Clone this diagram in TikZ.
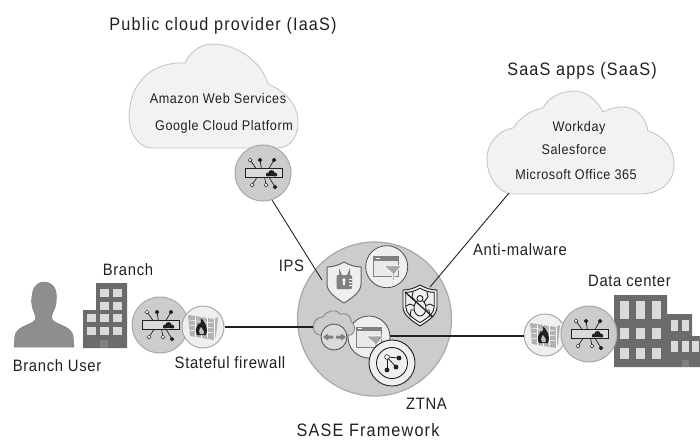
\documentclass[tikz,border=0pt]{standalone}
\usepackage{fontspec}
\setmainfont[FakeStretch=0.9,LetterSpace=4]{Liberation Sans}
\newfontfamily\titlefont[FakeStretch=0.9,LetterSpace=6.5]{Liberation Sans}
\usepackage{tikz}
\definecolor{hubgray}{HTML}{CCCCCC}
\definecolor{ringgray}{HTML}{A8A8A8}
\definecolor{palegray}{HTML}{EFEFEF}
\definecolor{cloudfill}{HTML}{F2F2F3}
\definecolor{cloudline}{HTML}{C6C6C6}
\definecolor{bldgray}{HTML}{6B6B6B}
\definecolor{wingray}{HTML}{DADADA}
\definecolor{persongray}{HTML}{8E8E8E}
\definecolor{iconink}{HTML}{231F20}
\newcommand{\shieldpath}{(0,-20) .. controls (-5,-17) and (-11,-15) .. (-17,-15) -- (-17,2) .. controls (-17,10) and (-8,16) .. (0,21) .. controls (8,16) and (17,10) .. (17,2) -- (17,-15) .. controls (11,-15) and (5,-17) .. (0,-20) -- cycle}
\tikzset{
	caption/.style={font=\fontsize{16.5}{18}\selectfont,text=iconink,inner sep=0pt},
	bigcaption/.style={font=\titlefont\fontsize{18}{20}\selectfont,text=iconink,inner sep=0pt},
	cloudtext/.style={font=\fontsize{14}{16}\selectfont,text=iconink,inner sep=0pt},
	cloudshape/.style={fill=cloudfill,draw=cloudline,line width=0.9pt},
	gwdisc/.style={circle,fill=hubgray,draw=ringgray,line width=1pt,minimum size=56pt,inner sep=0pt},
	fwdisc/.style={circle,fill=palegray,draw=ringgray,line width=1pt,minimum size=42pt,inner sep=0pt},
	filterdisc/.style={circle,fill=palegray,draw=iconink!80,line width=0.8pt,minimum size=42pt,inner sep=0pt},
	link/.style={draw=iconink,line width=0.9pt},
	trunk/.style={draw=iconink,line width=1.5pt},
	sdwan/.pic={
		\foreach \a/\b/\c in {-13/-13/white,-3/-13/iconink,11/-13/iconink,-11/12/white,3/12/white,12/14/iconink}{
			\draw[iconink,line width=0.7pt] (\a*0.5,\b*0.3) -- (\a,\b);
			\draw[iconink,line width=0.5pt,fill=\c] (\a,\b) circle (1.9);
		}
		\draw[iconink,line width=1pt,fill=wingray] (-18,-4.5) rectangle (19,4.5);
		\fill[iconink] (3,3) rectangle (14,1) (5,1.5) circle (2) (8.5,0) circle (3) (12,1.5) circle (2);
	},
	firewall/.pic={
		\fill[gray!60] (-15,-12) -- (11,-8) -- (15,-10) -- (13,9) -- (11,13) -- (-13,9) -- cycle;
		\foreach \b in {-7,-2,3}{
			\draw[white,line width=0.5pt] (-14,\b) -- (11,\b+3);
		}
		\foreach \a in {-8,-2,4}{
			\draw[white,line width=0.4pt] (\a,-10) -- (\a,11);
		}
		\draw[white,line width=0.5pt] (11,-8) -- (11,13);
		\fill[iconink] (-6,8) .. controls (-9,3) and (-6,-1) .. (-4,-4) .. controls (-3,-2) and (-2,-3) .. (-2,-9) .. controls (2,-5) and (6,2) .. (3,8) -- cycle;
		\fill[gray!50] (-3,7) .. controls (-5,4) and (-3,1) .. (-2,0) .. controls (-1,2) and (2,4) .. (0.5,7) -- cycle;
	},
	filterwin/.pic={
		\draw[gray,line width=0.7pt,fill=wingray!60] (-13,-10) rectangle (12,10);
		\fill[gray] (-13,-10) rectangle (12,-6);
		\fill[white] (-11,-8.6) rectangle (-7,-7.6);
		\draw[white,line width=0.7pt,fill=gray!70] (-3,-1) -- (15,-1) -- (8,7) -- (8,14) -- (6,14) -- (6,7) -- cycle;
	},
	ztna/.pic={
		\draw[iconink,line width=0.9pt,fill=palegray] (0,0) circle (23);
		\draw[iconink,line width=0.9pt,fill=palegray] (0,0) circle (15.5);
		\foreach \a/\b in {7/-5,4/4,-5/7}{
			\draw[iconink,line width=0.8pt] (-5,-6) -- (\a,\b);
			\fill[iconink] (\a,\b) circle (2.4);
		}
		\draw[iconink,line width=0.6pt,fill=white] (-5,-6) circle (2.4);
	},
	lockshield/.pic={
		\draw[iconink!70,line width=1pt,fill=palegray] \shieldpath;
		\draw[gray,line width=2pt] (-4,-7) -- (-4,-9) arc (180:0:4.5) -- (5,-7);
		\fill[gray,rounded corners=1pt] (-7.5,-7) rectangle (8,7);
		\fill[white] (0,-2) circle (1.8) (-0.8,-1) rectangle (0.8,3);
		\foreach \b in {-3,0,3}{
			\draw[white,line width=0.7pt] (5,\b) -- (8,\b);
		}
	},
	bugshield/.pic={
		\draw[iconink,line width=0.9pt,fill=palegray] \shieldpath;
		\begin{scope}[scale=0.84]
			\draw[iconink,line width=0.9pt] \shieldpath;
		\end{scope}
		\foreach \a/\b/\c/\d/\e/\f in {-4/-3/-8/-8/-7/-13,-5/1/-10/-1/-14/1,-4/5/-9/5/-10/12,4/-3/8/-8/7/-13,5/1/10/-1/14/1,4/5/9/5/10/12}{
			\draw[iconink,line width=0.9pt] (\a,\b) -- (\c,\d) -- (\e,\f);
		}
		\draw[iconink,line width=0.9pt,fill=palegray] (0,3) ellipse (6 and 8);
		\draw[iconink,line width=0.9pt,fill=palegray] (0,-6.5) circle (3);
		\draw[iconink,line width=1.3pt] (-15,-13) -- (13,12);
	}
}
\begin{document}
\begin{tikzpicture}[x=1pt,y=-1pt]
	\useasboundingbox (0,0) rectangle (700,440);
	% clouds
	\draw[cloudshape] (152,148) -- (277,148) .. controls (292,148) and (299,134) .. (298,120) .. controls (297,104) and (286,92) .. (268,84) .. controls (262,62) and (237,44) .. (213,44) .. controls (200,44) and (190,52) .. (185,63) .. controls (165,62) and (148,70) .. (140,82) .. controls (133,90) and (129,104) .. (129,118) .. controls (130,136) and (140,148) .. (152,148) -- cycle;
	\draw[cloudshape] (510,194) -- (643,194) .. controls (664,192) and (674,180) .. (674,165) .. controls (674,148) and (664,136) .. (648,131) .. controls (646,118) and (636,106) .. (622,107) .. controls (615,107) and (609,109) .. (603,112) .. controls (597,100) and (586,91) .. (575,91) .. controls (560,91) and (548,98) .. (543,108) .. controls (530,110) and (520,118) .. (513,128) .. controls (498,130) and (487,144) .. (487,158) .. controls (487,176) and (496,190) .. (510,194) -- cycle;
	\coordinate (pubfoot) at (272,200);
	\coordinate (saasfoot) at (509,193);
	\coordinate (ipsend) at (322,280);
	\node[cloudtext] (aws) at (218,98) {Amazon Web Services};
	\node[cloudtext] (gcp) at (224,127) {Google Cloud Platform};
	\node[cloudtext] (workday) at (579,128) {Workday};
	\node[cloudtext] (salesforce) at (574,149) {Salesforce};
	\node[cloudtext] (office) at (576,174) {Microsoft Office 365};
	% framework disc
	\node[circle,fill=hubgray,draw=ringgray,line width=1.2pt,minimum size=154pt,inner sep=0pt] (sase) at (374.5,319) {};
	\coordinate (bugtop) at (430,287);
	\coordinate (cloudleft) at (313,327);
	\node[filterdisc] (ipsdisc) at (386.7,266.7) {};
	\pic at (ipsdisc) {filterwin};
	\pic at (344,282) {lockshield};
	\pic at (420,305) {bugshield};
	\node[filterdisc] (zfilter) at (369,337) {};
	\pic at (zfilter) {filterwin};
	% small cloud and arrows
	\draw[fill=hubgray,draw=gray,line width=0.8pt] (321,335) .. controls (314,335) and (312,329) .. (314,323) .. controls (315,319) and (320,317) .. (323,317) .. controls (326,311) and (335,308) .. (340,314) .. controls (346,312) and (352,317) .. (351,321) .. controls (356,325) and (356,332) .. (351,335) -- cycle;
	\node[circle,fill=wingray,draw=iconink!80,line width=0.8pt,minimum size=26pt,inner sep=0pt] (arrowdisc) at (334,337) {};
	\fill[gray] (333,335.5) -- (328,335.5) -- (328,333.5) -- (323,337) -- (328,340.5) -- (328,338.5) -- (333,338.5) -- cycle;
	\fill[gray] (336,335.5) -- (341,335.5) -- (341,333.5) -- (346,337) -- (341,340.5) -- (341,338.5) -- (336,338.5) -- cycle;
	\pic at (392,363) {ztna};
	\node[gwdisc] (pubgw) at (263,173) {};
	\pic at (pubgw) {sdwan};
	% branch side
	\fill[persongray,draw=gray,line width=0.5pt] (14,347) -- (15,336) .. controls (16,328) and (26,326) .. (33,322) .. controls (37,319) and (36,317) .. (34,312) .. controls (31,306) and (31,298) .. (33,291) .. controls (35,284) and (40,282) .. (44,282) .. controls (50,282) and (55,286) .. (56,292) .. controls (57,300) and (56,307) .. (53,312) .. controls (51,317) and (51,320) .. (55,322) .. controls (62,326) and (72,328) .. (73,336) -- (74,347) -- cycle;
	\fill[bldgray] (96,283) rectangle (127,348) (83,310) rectangle (96,348);
	\foreach \x/\y in {100/289,113/289,100/302,113/302,87/314,100/314,113/314,87/327,100/327,113/327}{
		\fill[wingray] (\x,\y) rectangle ++(9,8);
	}
	\fill[gray] (100,340) rectangle (108,348);
	\node[gwdisc] (branchgw) at (160,325) {};
	\pic at (branchgw) {sdwan};
	\node[fwdisc] (branchfw) at (203,327) {};
	\pic at (branchfw) {firewall};
	% data center side
	\fill[bldgray] (614,295) rectangle (667,367) (667,314) rectangle (692,367) (692,336) rectangle (700,367);
	\foreach \x in {620,636,652}{
		\fill[wingray] (\x,301) rectangle ++(9,18);
		\fill[wingray] (\x,328) rectangle ++(9,11);
		\fill[wingray] (\x,348) rectangle ++(9,11);
	}
	\foreach \x/\y in {671/320,682/320,671/341,682/341,692/341}{
		\fill[wingray] (\x,\y) rectangle ++(7,11);
	}
	\fill[gray] (682,360) rectangle (689,367);
	\node[fwdisc] (dcfw) at (545,335) {};
	\pic at (dcfw) {firewall};
	\node[gwdisc] (dcgw) at (589,334) {};
	\pic at (dcgw) {sdwan};
	% connectors
	\draw[link] (pubfoot) -- (ipsend);
	\draw[link] (saasfoot) -- (bugtop);
	\draw[trunk] (branchfw) -- (cloudleft);
	\draw[trunk] (zfilter.east |- 0,336) -- (dcfw.west |- 0,336);
	% labels
	\node[bigcaption] (pubtitle) at (223,26) {Public cloud provider (IaaS)};
	\node[bigcaption] (saastitle) at (582,71) {SaaS apps (SaaS)};
	\node[caption] (branchlbl) at (128,270) {Branch};
	\node[caption] (userlbl) at (57,366) {Branch User};
	\node[caption] (fwlbl) at (230,363) {Stateful firewall};
	\node[caption] (ipslbl) at (291.5,266) {IPS};
	\node[caption] (amlbl) at (520,250) {Anti-malware};
	\node[caption] (ztnalbl) at (426.5,404) {ZTNA};
	\node[bigcaption] (saselbl) at (368,430) {SASE Framework};
	\node[caption] (dclbl) at (629.5,281) {Data center};
\end{tikzpicture}
\end{document}
